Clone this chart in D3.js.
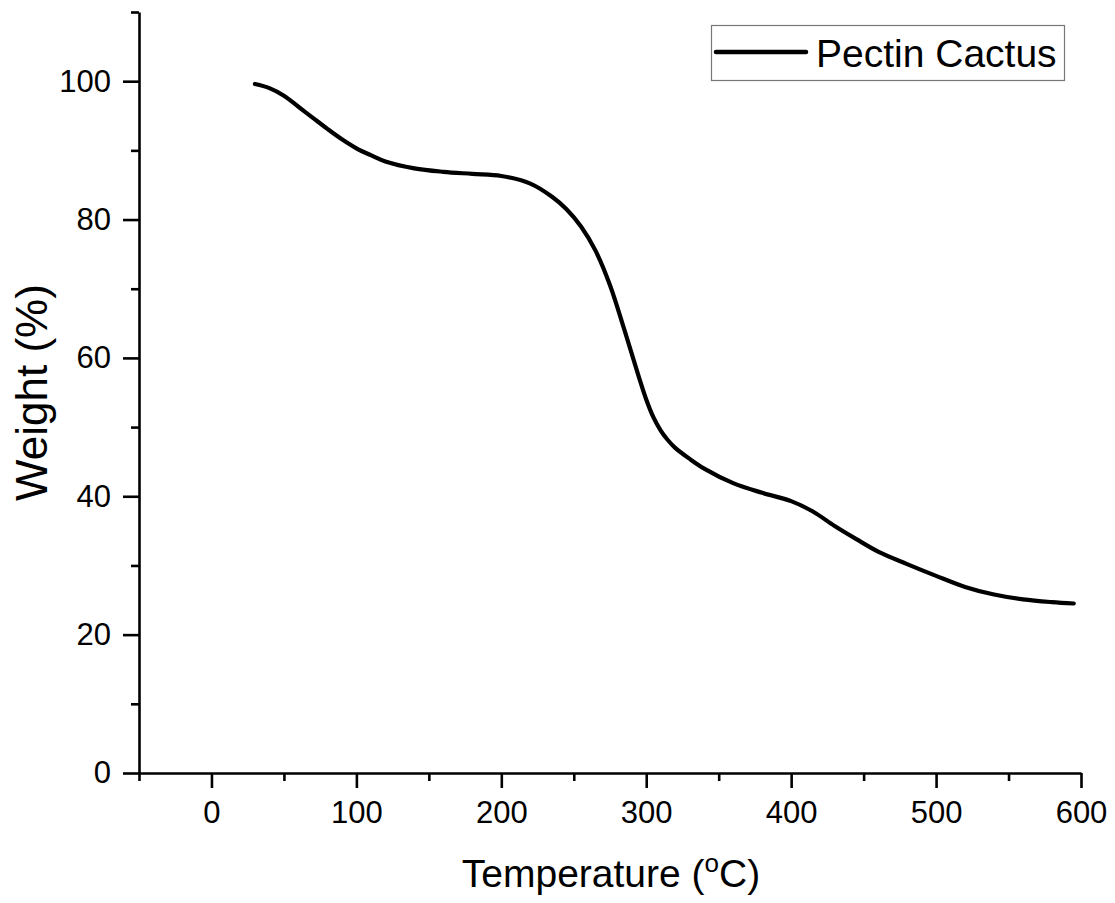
<!DOCTYPE html>
<html>
<head>
<meta charset="utf-8">
<script src="https://cdn.jsdelivr.net/npm/d3@7"></script>
<style>
  body { margin: 0; background: #fff; }
  text { font-family: "Liberation Sans", Arial, sans-serif; fill: #000; }
</style>
</head>
<body>
<svg id="chart" width="1115" height="903"></svg>
<script>
// TGA curve
const temps = [30, 40, 50, 60, 70, 80, 90, 100, 110, 120, 140, 160, 180, 200, 220, 235, 245, 255, 265, 275, 285, 295, 300, 305, 310, 315, 320, 330, 340, 360, 380, 400, 415, 430, 445, 460, 480, 500, 520, 540, 560, 580, 595];
const weights = [99.6, 99.0, 97.9, 96.3, 94.7, 93.1, 91.6, 90.3, 89.3, 88.4, 87.4, 86.9, 86.6, 86.3, 85.2, 83.3, 81.5, 79.0, 75.5, 70.5, 64.0, 57.2, 54.0, 51.4, 49.5, 48.1, 47.0, 45.4, 44.0, 41.9, 40.5, 39.3, 37.8, 35.7, 33.8, 32.0, 30.2, 28.5, 26.9, 25.8, 25.1, 24.7, 24.5];
const seriesName = "Pectin Cactus";
const xMajor = [0, 100, 200, 300, 400, 500, 600];
const xMinor = [-50, 50, 150, 250, 350, 450, 550];
const yMajor = [0, 20, 40, 60, 80, 100];
const yMinor = [10, 30, 50, 70, 90, 110];

const svg = d3.select("#chart");
const plotLeft = 139, plotRight = 1081, plotTop = 12, plotBottom = 773;

const x = d3.scaleLinear().domain([-50, 600]).range([plotLeft, plotRight]);
const y = d3.scaleLinear().domain([0, 110]).range([plotBottom, plotTop]);

const data = temps.map((t, i) => ({ t: t, w: weights[i] }));

// minor ticks first (no labels)
svg.append("g")
  .attr("transform", "translate(0," + plotBottom + ")")
  .call(d3.axisBottom(x).tickValues(xMinor).tickSize(8).tickFormat(""))
  .call(g => g.select(".domain").remove());
svg.append("g")
  .attr("transform", "translate(" + plotLeft + ",0)")
  .call(d3.axisLeft(y).tickValues(yMinor).tickSize(8).tickFormat(""))
  .call(g => g.select(".domain").remove());

const xAxis = svg.append("g")
  .attr("transform", "translate(0," + plotBottom + ")")
  .call(d3.axisBottom(x).tickValues(xMajor).tickSize(15).tickSizeOuter(0).tickPadding(13));
const yAxis = svg.append("g")
  .attr("transform", "translate(" + plotLeft + ",0)")
  .call(d3.axisLeft(y).tickValues(yMajor).tickSize(16).tickSizeOuter(0).tickPadding(12));

svg.selectAll(".tick line").attr("stroke", "#000").attr("stroke-width", 2.6);
svg.selectAll(".domain").attr("stroke", "#000").attr("stroke-width", 2.6);
svg.selectAll(".tick text")
  .style("font-size", "31px")
  .style("font-family", "'Liberation Sans', Arial, sans-serif")
  .attr("fill", "#000");

// curve
const line = d3.line()
  .x(d => x(d.t))
  .y(d => y(d.w))
  .curve(d3.curveCatmullRom.alpha(0.5));

svg.append("path")
  .datum(data)
  .attr("d", line)
  .attr("fill", "none")
  .attr("stroke", "#000")
  .attr("stroke-width", 4.2)
  .attr("stroke-linecap", "round");

// axis titles
const xt = svg.append("text")
  .attr("x", (plotLeft + plotRight) / 2 + 1)
  .attr("y", 887)
  .attr("text-anchor", "middle")
  .style("font-size", "39px");
xt.append("tspan").text("Temperature (");
xt.append("tspan").style("font-size", "26px").attr("dy", -15).text("o");
xt.append("tspan").attr("dy", 15).text("C)");

svg.append("text")
  .attr("transform", "translate(47," + (plotTop + plotBottom) / 2 + ") rotate(-90)")
  .attr("text-anchor", "middle")
  .style("font-size", "44px")
  .text("Weight (%)");

// legend
const legend = svg.append("g");
legend.append("rect")
  .attr("x", 711.5).attr("y", 25.5)
  .attr("width", 353).attr("height", 55)
  .attr("fill", "#fff")
  .attr("stroke", "#777")
  .attr("stroke-width", 1.2);
legend.append("line")
  .attr("x1", 716).attr("x2", 806)
  .attr("y1", 52).attr("y2", 52)
  .attr("stroke", "#000")
  .attr("stroke-width", 4.5)
  .attr("stroke-linecap", "round");
legend.append("text")
  .attr("x", 816)
  .attr("y", 66.5)
  .style("font-size", "39px")
  .text(seriesName);
</script>
</body>
</html>
